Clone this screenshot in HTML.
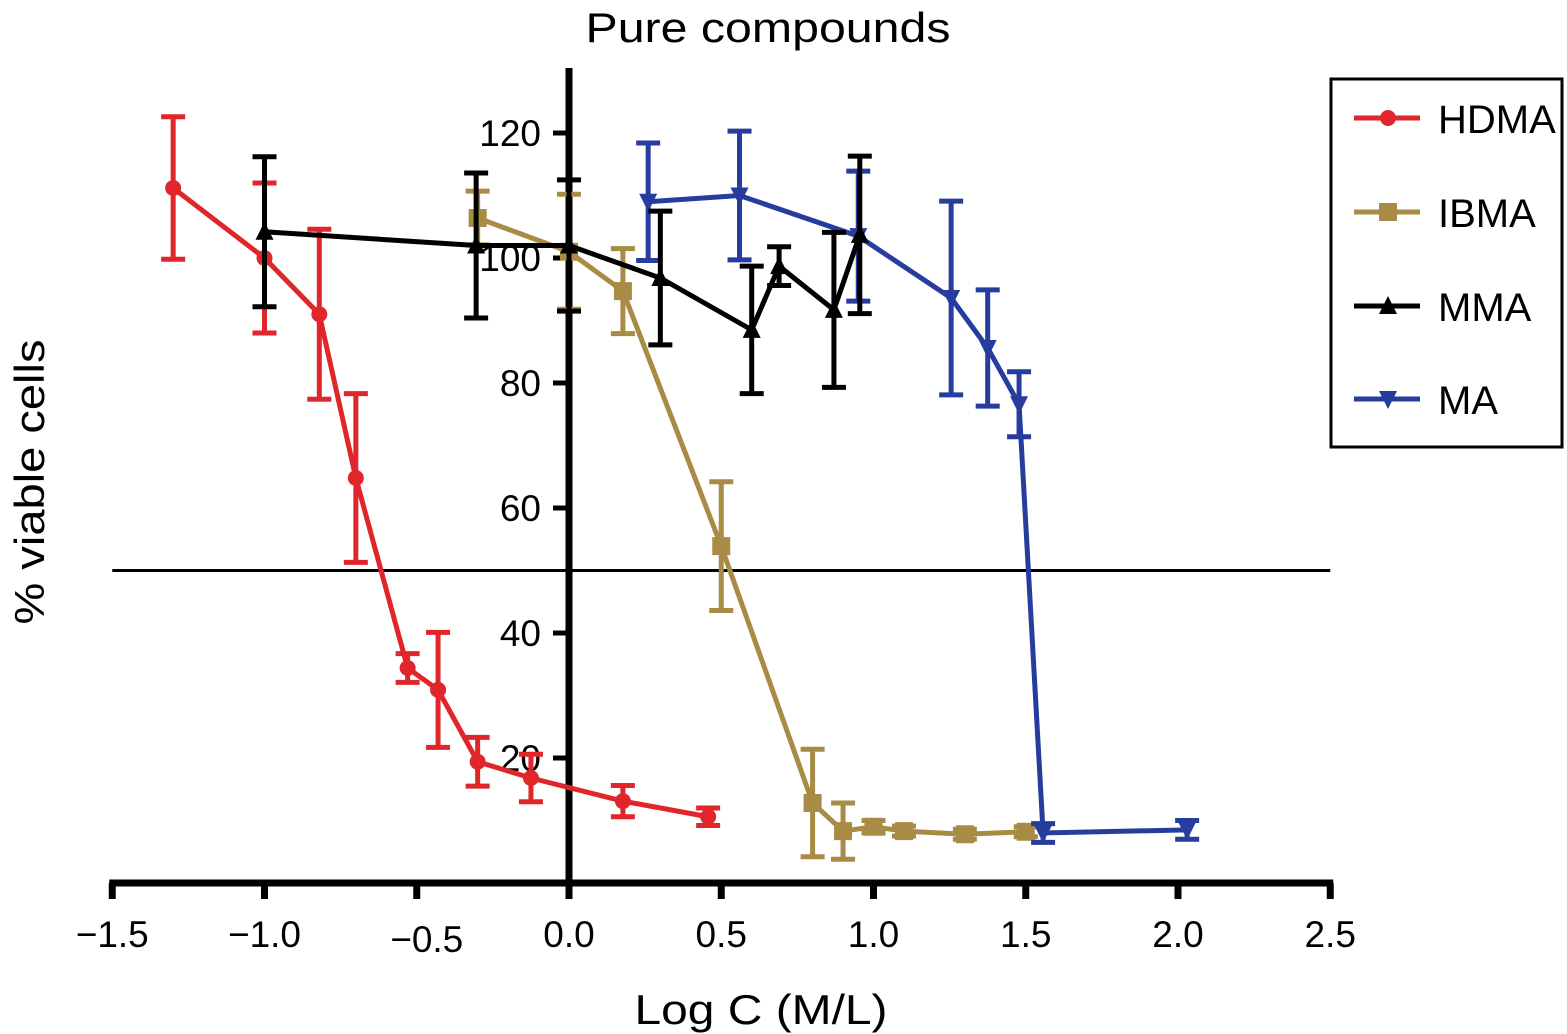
<!DOCTYPE html>
<html><head><meta charset="utf-8"><style>
html,body{margin:0;padding:0;background:#fff;}
svg{display:block;font-family:"Liberation Sans",Arial,sans-serif;}
</style></head><body>
<svg id="chart" width="1567" height="1034" viewBox="0 0 1567 1034" xmlns="http://www.w3.org/2000/svg">
<text x="768" y="42" font-size="42" text-anchor="middle" textLength="365" lengthAdjust="spacingAndGlyphs">Pure compounds</text>
<text transform="translate(44,482) rotate(-90)" font-size="42" text-anchor="middle" textLength="285" lengthAdjust="spacingAndGlyphs">% viable cells</text>
<text x="761" y="1024" font-size="42" text-anchor="middle" textLength="253" lengthAdjust="spacingAndGlyphs">Log C (M/L)</text>
<g id="axes"></g>
<g id="series"></g>
<g>
<rect x="1331" y="79" width="231" height="368" fill="none" stroke="#000" stroke-width="3"/>
<g id="legend-entries"></g>
</g>
</svg>
<script>
const xTicks = [-1.5,-1.0,-0.5,0.0,0.5,1.0,1.5,2.0,2.5];
const xTickLabels = ["\u22121.5","\u22121.0","\u22120.5","0.0","0.5","1.0","1.5","2.0","2.5"];
const yTicks = [20,40,60,80,100,120];
const yTickLabels = ["20","40","60","80","100","120"];
const refLine = 50;
const seriesNames = ["HDMA","IBMA","MMA","MA"];
const seriesColors = ["#e0262b","#a88b45","#000000","#263d9e"];
const seriesMarkers = ["circle","square","up","down"];
const hdmaX = [-1.30,-1.0,-0.82,-0.70,-0.53,-0.43,-0.30,-0.125,0.177,0.457];
const hdmaY = [111.2,100,91,64.8,34.4,30.9,19.4,16.8,13.1,10.6];
const hdmaE = [11.4,12,13.6,13.5,2.3,9.2,3.9,3.8,2.5,1.4];
const ibmaX = [-0.30,0,0.177,0.50,0.80,0.90,1.0,1.10,1.30,1.50];
const ibmaY = [106.4,101,94.7,53.9,12.8,8.3,9,8.3,7.8,8.2];
const ibmaE = [4.3,9.2,6.8,10.3,8.6,4.5,1,0.8,0.8,0.8];
const mmaX = [-1.0,-0.305,0,0.30,0.60,0.69,0.87,0.955];
const mmaY = [104.2,102,102,96.8,88.5,98.7,91.7,103.7];
const mmaE = [12,11.6,10.5,10.7,10.2,3.1,12.4,12.6];
const maX = [0.26,0.56,0.95,1.255,1.375,1.478,1.557,2.03];
const maY = [109,110,103.5,93.6,85.6,76.6,8.0,8.5];
const maE = [9.4,10.3,10.4,15.5,9.3,5.2,1.5,1.5];

const NS="http://www.w3.org/2000/svg";
function sx(v){return 569+v*304.5;}
function sy(v){return 883-v*6.25;}
function mk(tag,attrs,parent){const e=document.createElementNS(NS,tag);for(const k in attrs)e.setAttribute(k,attrs[k]);parent.appendChild(e);return e;}
const axes=document.getElementById('axes');
let e;
e=mk('line',{x1:sx(-1.5)-3,x2:sx(2.5)+3,y1:sy(0),y2:sy(0),stroke:'#000','stroke-width':7},axes);


e=mk('line',{x1:sx(0),x2:sx(0),y1:68,y2:sy(0)+3,stroke:'#000','stroke-width':7},axes);


e=mk('line',{x1:sx(-1.5),x2:sx(2.5),y1:sy(refLine),y2:sy(refLine),stroke:'#000','stroke-width':3},axes);


xTicks.forEach((t,i)=>{
  e=mk('line',{x1:sx(t),x2:sx(t),y1:sy(0),y2:sy(0)+16,stroke:'#000','stroke-width':7},axes);
  
  
  e=mk('text',{x:sx(t)-(i==2?-10:0),y:(i==2?952:947),'font-size':37,'text-anchor':'middle'},axes);
  e.textContent=xTickLabels[i];
  
  
});
yTicks.forEach((t,i)=>{
  e=mk('line',{x1:sx(0)-16,x2:sx(0),y1:sy(t),y2:sy(t),stroke:'#000','stroke-width':5},axes);
  
  
  e=mk('text',{x:sx(0)-28,y:sy(t)+13,'font-size':37,'text-anchor':'end'},axes);
  e.textContent=yTickLabels[i];
  
  
});
function marker(type,cx,cy,color,parent){
  let m;
  if(type=='circle') m=mk('circle',{cx:cx,cy:cy,r:8,fill:color},parent);
  else if(type=='square') m=mk('rect',{x:cx-9,y:cy-9,width:18,height:18,fill:color},parent);
  else if(type=='up') m=mk('polygon',{points:`${cx},${cy-10} ${cx+9},${cy+8} ${cx-9},${cy+8}`,fill:color},parent);
  else m=mk('polygon',{points:`${cx-9},${cy-8} ${cx+9},${cy-8} ${cx},${cy+10}`,fill:color},parent);
  return m;
}
const data=[[hdmaX,hdmaY,hdmaE],[ibmaX,ibmaY,ibmaE],[mmaX,mmaY,mmaE],[maX,maY,maE]];
const sg=document.getElementById('series');
const order=[1,0,3,2];
order.forEach(si=>{
  const [X,Y,E]=data[si];const c=seriesColors[si];
  const g=mk('g',{},sg);
  
  
  X.forEach((x,i)=>{
    const px=sx(x),t=sy(Y[i]+E[i]),b=sy(Y[i]-E[i]);
    const eb=mk('path',{d:`M${px},${t}V${b}M${px-12},${t}H${px+12}M${px-12},${b}H${px+12}`,stroke:c,'stroke-width':5,fill:'none'},g);
    
    
  });
  const ln=mk('polyline',{points:X.map((x,i)=>sx(x)+','+sy(Y[i])).join(' '),stroke:c,'stroke-width':5,fill:'none'},g);
  
  
  X.forEach((x,i)=>{
    const m=marker(seriesMarkers[si],sx(x),sy(Y[i]),c,g);
    
    
  });
});
const lg=document.getElementById('legend-entries');
const ly=[118,212,306,399];
seriesNames.forEach((n,i)=>{
  const g=mk('g',{},lg);
  
  
  mk('line',{x1:1354,x2:1420,y1:ly[i],y2:ly[i],stroke:seriesColors[i],'stroke-width':5},g);
  marker(seriesMarkers[i],1388,ly[i],seriesColors[i],g);
  const t=mk('text',{x:1438,y:ly[i]+15,'font-size':40},g);
  t.textContent=n;
});
</script>
</body></html>
